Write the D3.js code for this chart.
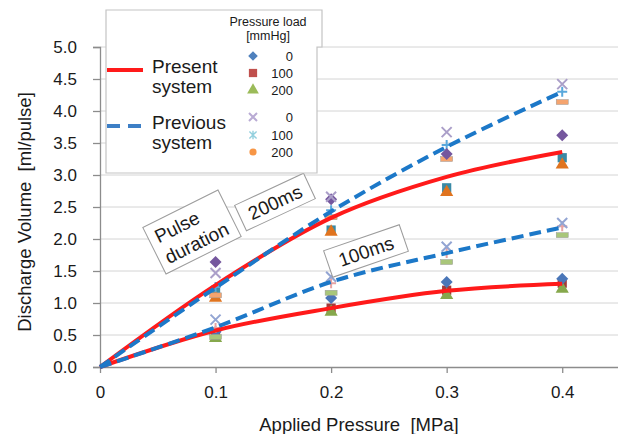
<!DOCTYPE html>
<html>
<head>
<meta charset="utf-8">
<script src="https://cdn.jsdelivr.net/npm/d3@7"></script>
<style>
  body { margin: 0; background: #fff; }
  text { font-family: "Liberation Sans", Arial, sans-serif; fill: #1a1a1a; white-space: pre; }
</style>
</head>
<body>
<div id="chart"></div>
<script>
// Applied pressure values [MPa]
const linePressure = [0, 0.1, 0.2, 0.3, 0.4];
const pointPressure = [0.1, 0.2, 0.3, 0.4];
const yTicks = [0, 0.5, 1, 1.5, 2, 2.5, 3, 3.5, 4, 4.5, 5];
const xTicks = [0, 0.1, 0.2, 0.3, 0.4];

// Fitted curves (ml/pulse)
const present200 = [0, 1.28, 2.33, 2.97, 3.36];
const previous200 = [0, 1.24, 2.43, 3.44, 4.30];
const present100 = [0, 0.57, 0.92, 1.19, 1.30];
const previous100 = [0, 0.62, 1.33, 1.78, 2.18];

// Measured points, 200ms pulse duration
const pres0_200 = [1.64, 2.62, 3.33, 3.62];
const pres100_200 = [1.20, 2.14, 2.80, 3.27];
const pres200_200 = [1.08, 2.11, 2.73, 3.16];
const prev0_200 = [1.47, 2.66, 3.67, 4.42];
const prev100_200 = [1.25, 2.45, 3.47, 4.30];
const prev200_200 = [1.12, 2.34, 3.25, 4.14];

// Measured points, 100ms pulse duration
const pres0_100 = [0.55, 1.08, 1.33, 1.38];
const pres100_100 = [0.49, 0.92, 1.20, 1.31];
const pres200_100 = [0.45, 0.86, 1.12, 1.22];
const prev0_100 = [0.74, 1.41, 1.88, 2.25];
const prev100_100 = [0.61, 1.31, 1.78, 2.20];
const prev200_100 = [0.47, 1.16, 1.64, 2.06];

// Legend labels
const loadLabels = ["0", "100", "200"];

const width = 618, height = 434;

const svg = d3.select("#chart").append("svg")
    .attr("width", width)
    .attr("height", height);

const x = d3.scaleLinear().domain([0, 0.45]).range([100, 620]);
const y = d3.scaleLinear().domain([0, 5]).range([367, 47]);

// horizontal gridlines
svg.append("g")
    .selectAll("line")
    .data(yTicks.slice(1))
    .join("line")
    .attr("x1", x(0)).attr("x2", width)
    .attr("y1", d => y(d)).attr("y2", d => y(d))
    .attr("stroke", "#d4d4d4")
    .attr("stroke-width", 1);

// axes
const yAxis = svg.append("g")
    .attr("transform", `translate(${x(0)},0)`)
    .call(d3.axisLeft(y).tickValues(yTicks).tickFormat(d3.format(".1f")).tickSize(7).tickPadding(16));
const xAxis = svg.append("g")
    .attr("transform", `translate(0,${y(0)})`)
    .call(d3.axisBottom(x).tickValues(xTicks).tickFormat(d => d === 0 ? "0" : d3.format(".1f")(d)).tickSize(6).tickPadding(13));

[xAxis, yAxis].forEach(a => {
    a.select(".domain").attr("stroke", "#8c8c8c").attr("stroke-width", 1.3);
    a.selectAll(".tick line").attr("stroke", "#8c8c8c").attr("stroke-width", 1.3);
    a.selectAll(".tick text")
        .attr("font-size", 17)
        .attr("font-family", "Liberation Sans, Arial, sans-serif")
        .attr("fill", "#1a1a1a");
});
xAxis.select(".domain").attr("d", `M${x(0)},0.5H${width}`);

// axis titles
svg.append("text")
    .attr("x", 359).attr("y", 431)
    .attr("text-anchor", "middle")
    .attr("font-size", 18.5)
    .text("Applied Pressure  [MPa]");
svg.append("text")
    .attr("transform", "translate(31,212) rotate(-90)")
    .attr("text-anchor", "middle")
    .attr("font-size", 18.5)
    .text("Discharge Volume  [ml/pulse]");

// marker drawing
function drawMarker(g, shape, color, legend) {
    const s = legend ? 0.8 : 1;
    if (shape === "diamond") {
        const r = 6 * s;
        g.append("path").attr("d", `M0,${-r}L${r},0L0,${r}L${-r},0Z`).attr("fill", color);
    } else if (shape === "square") {
        g.append("path").attr("d", d3.symbol(d3.symbolSquare, 85 * s)()).attr("fill", color);
    } else if (shape === "triangle") {
        g.append("path").attr("d", d3.symbol(d3.symbolTriangle, 75 * s)()).attr("fill", color);
    } else if (shape === "circle") {
        g.append("circle").attr("r", 4.5 * s).attr("fill", color);
    } else if (shape === "x") {
        const r = 5 * s;
        g.append("path").attr("d", `M${-r},${-r}L${r},${r}M${-r},${r}L${r},${-r}`)
            .attr("stroke", color).attr("stroke-width", 2).attr("fill", "none");
    } else if (shape === "plus") {
        const r = 5 * s;
        g.append("path").attr("d", `M${-r},0L${r},0M0,${-r}L0,${r}`)
            .attr("stroke", color).attr("stroke-width", 2).attr("fill", "none");
    } else if (shape === "asterisk") {
        const r = 4.5 * s;
        g.append("path").attr("d", `M${-r},${-r}L${r},${r}M${-r},${r}L${r},${-r}M0,${-r * 1.2}L0,${r * 1.2}`)
            .attr("stroke", color).attr("stroke-width", 1.4).attr("fill", "none");
    } else if (shape === "dash") {
        g.append("rect").attr("x", -6).attr("y", -2.5).attr("width", 12).attr("height", 5)
            .attr("fill", color).attr("stroke", "#9a9a9a").attr("stroke-width", 0.5);
    }
}

// curves
const lineGen = vals => d3.line()
    .x((d, i) => x(linePressure[i]))
    .y(d => y(d))
    .curve(d3.curveCardinal.tension(0))(vals);

const curves = [
    { vals: present100, color: "#ff1a1a", dash: null },
    { vals: previous100, color: "#1c78c8", dash: "12,6" },
    { vals: present200, color: "#ff1a1a", dash: null },
    { vals: previous200, color: "#1c78c8", dash: "12,6" }
];

// measured points
const markerSeries = [
    { vals: pres100_200, shape: "square", color: "#3a8aa6" },
    { vals: pres200_200, shape: "triangle", color: "#e0741f" },
    { vals: prev200_200, shape: "dash", color: "#f5a46e" },
    { vals: prev100_200, shape: "plus", color: "#58a8dc" },
    { vals: pres0_200, shape: "diamond", color: "#75579e" },
    { vals: prev0_200, shape: "x", color: "#ab9fc9" },
    { vals: pres100_100, shape: "square", color: "#a33b3a" },
    { vals: pres200_100, shape: "triangle", color: "#86a84c" },
    { vals: pres0_100, shape: "diamond", color: "#4a76b8" },
    { vals: prev200_100, shape: "dash", color: "#a9c67a" },
    { vals: prev100_100, shape: "plus", color: "#e7a3a3" },
    { vals: prev0_100, shape: "x", color: "#93a5d3" }
];

markerSeries.forEach(ser => {
    svg.append("g")
        .selectAll("g")
        .data(ser.vals)
        .join("g")
        .attr("transform", (d, i) => `translate(${x(pointPressure[i])},${y(d)})`)
        .each(function () { drawMarker(d3.select(this), ser.shape, ser.color, false); });
});

curves.forEach(c => {
    svg.append("path")
        .attr("d", lineGen(c.vals))
        .attr("fill", "none")
        .attr("stroke", c.color)
        .attr("stroke-width", 4)
        .attr("stroke-dasharray", c.dash);
});

// annotation boxes
const notes = [
    { cx: 192, cy: 232, w: 84, h: 52, angle: -26.5, lines: ["Pulse", "duration"] },
    { cx: 275, cy: 202, w: 76, h: 28, angle: -25, lines: ["200ms"] },
    { cx: 366, cy: 251, w: 80, h: 28, angle: -19, lines: ["100ms"] }
];
notes.forEach(n => {
    const g = svg.append("g").attr("transform", `translate(${n.cx},${n.cy}) rotate(${n.angle})`);
    g.append("rect")
        .attr("x", -n.w / 2).attr("y", -n.h / 2)
        .attr("width", n.w).attr("height", n.h)
        .attr("fill", "#fff")
        .attr("stroke", "#9c9c9c").attr("stroke-width", 1);
    const lh = 23;
    n.lines.forEach((t, i) => {
        g.append("text")
            .attr("x", n.lines.length > 1 ? -n.w / 2 + 7 : 0)
            .attr("y", (i - (n.lines.length - 1) / 2) * lh + 7)
            .attr("text-anchor", n.lines.length > 1 ? "start" : "middle")
            .attr("font-size", 19)
            .text(t);
    });
});

// legend
const legend = svg.append("g");
legend.append("path")
    .attr("d", "M106,10H322V47H317V173H106Z")
    .attr("fill", "#fff")
    .attr("stroke", "#c4c4c4")
    .attr("stroke-width", 1.2);
legend.append("text").attr("x", 268).attr("y", 26).attr("text-anchor", "middle")
    .attr("font-size", 12.5).attr("fill", "#333").text("Pressure load");
legend.append("text").attr("x", 268).attr("y", 40).attr("text-anchor", "middle")
    .attr("font-size", 12.5).attr("fill", "#333").text("[mmHg]");

legend.append("line").attr("x1", 107).attr("x2", 143).attr("y1", 70).attr("y2", 70)
    .attr("stroke", "#ff1a1a").attr("stroke-width", 4);
legend.append("line").attr("x1", 107).attr("x2", 143).attr("y1", 126).attr("y2", 126)
    .attr("stroke", "#3d7fc6").attr("stroke-width", 4).attr("stroke-dasharray", "13,8");

[["Present", "system", 73], ["Previous", "system", 129]].forEach(([a, b, yy]) => {
    legend.append("text").attr("x", 152).attr("y", yy).attr("font-size", 19).text(a);
    legend.append("text").attr("x", 152).attr("y", yy + 20).attr("font-size", 19).text(b);
});

const legendMarks = [
    { shape: "diamond", color: "#4f81bd" },
    { shape: "square", color: "#c0504d" },
    { shape: "triangle", color: "#9bbb59" },
    { shape: "x", color: "#b9abd4" },
    { shape: "asterisk", color: "#93d0de" },
    { shape: "circle", color: "#f79646" }
];
const legendY = [56, 73, 90, 117, 135, 152];
legendMarks.forEach((m, i) => {
    const g = legend.append("g").attr("transform", `translate(253,${legendY[i]})`);
    drawMarker(g, m.shape, m.color, true);
    legend.append("text").attr("x", 293).attr("y", legendY[i] + 5)
        .attr("text-anchor", "end").attr("font-size", 13).attr("fill", "#222")
        .text(loadLabels[i % 3]);
});
</script>
</body>
</html>
